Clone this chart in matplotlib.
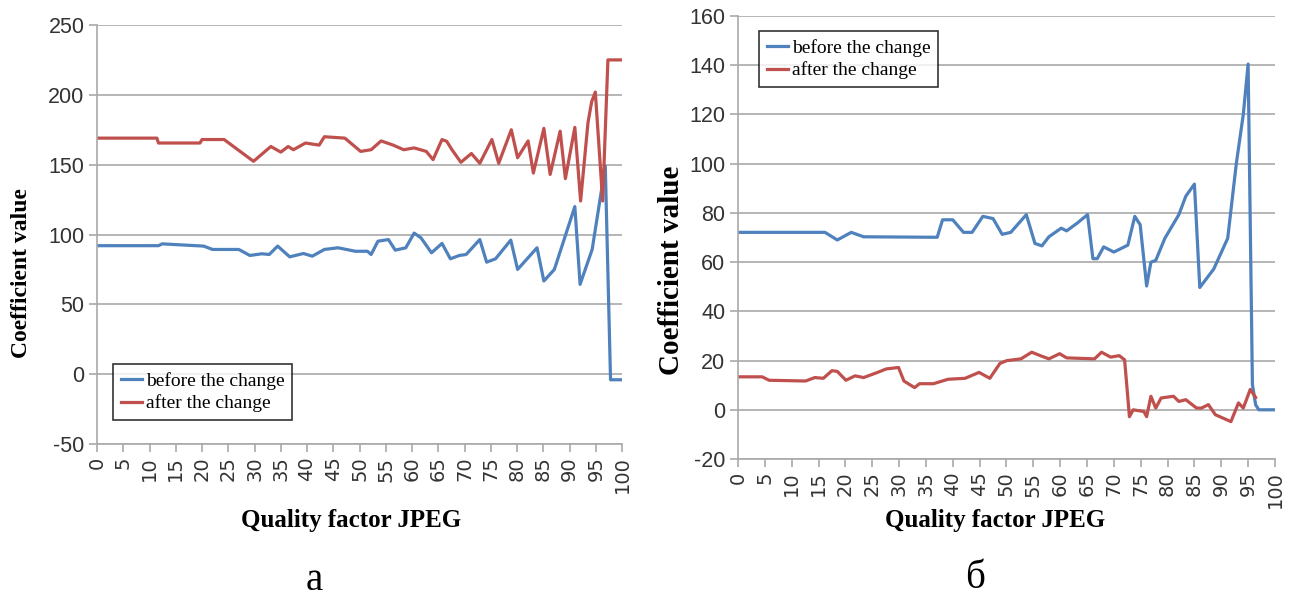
import matplotlib
matplotlib.use("Agg")
import matplotlib.pyplot as plt

# ---- data ----
# panel a
a_before_x = [0, 11.7, 12.4, 20.3, 22, 27, 29.1, 31.4, 32.8, 34.4, 36.7, 39.3, 41, 43.3, 45.9,
              49.2, 51.5, 52.2, 53.5, 55.5, 56.8, 58.8, 60.4, 61.7, 63.7, 65.7, 67.3, 69, 70.3,
              72.9, 74.2, 75.9, 78.8, 80.1, 83.8, 85.1, 87.1, 91, 92, 94.3, 96.8, 97.8, 100]
a_before_y = [92, 92, 93.3, 91.7, 89.3, 89.3, 85, 86.2, 85.7, 91.7, 84, 86.4, 84.5, 89.3, 90.5,
              88, 88, 85.7, 95.2, 96.4, 88.8, 90.5, 101, 97.6, 86.9, 93.6, 82.6, 85, 85.7,
              96.4, 80.2, 82.6, 96, 75, 90.5, 66.7, 75, 120, 64.3, 89.3, 149, -4, -4]

a_after_x = [0, 11.4, 11.7, 19.6, 20, 24.2, 29.8, 33.1, 35, 36.4, 37.4, 39.7, 42.3, 43.3, 47.2,
             50.2, 52.2, 54.1, 56.4, 58.4, 60.4, 62.7, 64, 65.7, 66.6, 67.6, 69.3, 71.3, 72.9,
             75.2, 76.5, 78.9, 80.1, 82.1, 83.1, 85.1, 86.3, 88.2, 89.2, 91, 92.1, 93.5, 94.2,
             94.9, 96.3, 97.3, 100]
a_after_y = [169, 169, 165.5, 165.5, 168, 168, 152.4, 163, 159, 163, 160.7, 165.5, 164, 170, 169,
             159.5, 160.7, 167, 164, 160.7, 162, 159.5, 153.6, 168, 166.7, 160.7, 151.7, 158, 151,
             168, 151, 175, 155, 167, 144, 176, 143, 174, 140, 176.7, 124, 180, 195,
             202, 124, 225, 225]

# panel б
b_before_x = [0, 16.2, 18.5, 21.1, 23.4, 37.1, 38.1, 40, 42, 43.6, 45.6, 47.5, 49.2, 50.8, 53.7,
              55.3, 56.6, 57.9, 60.2, 61.2, 63.2, 65.1, 66.1, 66.9, 68.1, 70, 72.6, 73.9, 74.9,
              76.1, 76.9, 77.8, 79.5, 82.1, 83.4, 85, 86, 88.6, 91.2, 92.8, 94.1, 95, 95.8,
              96.4, 97, 100]
b_before_y = [72.1, 72.1, 69, 72.1, 70.3, 70.1, 77.2, 77.2, 72.1, 72.1, 78.6, 77.7, 71.3, 72.1, 79.3,
              67.6, 66.6, 70.3, 73.8, 72.7, 75.9, 79.3, 61.4, 61.4, 66.2, 64.1, 66.9, 78.6, 75.2,
              50.3, 60, 60.7, 69.7, 79.3, 86.8, 91.7, 49.7, 57.2, 69.7, 100, 120, 140.5, 10.3,
              2, 0, 0]

b_after_x = [0, 4.5, 5.8, 12.6, 14.3, 15.9, 17.5, 18.5, 20.1, 21.8, 23.4, 26, 27.6, 29.9, 30.9,
             32.9, 33.8, 36.4, 39.1, 42.3, 44.9, 46.9, 48.8, 50.1, 52.7, 54.7, 56.3, 57.9, 59.9,
             61.2, 66.4, 67.7, 69.4, 71, 72, 72.9, 73.6, 75.6, 76.1, 76.9, 77.8, 78.8, 81.1,
             82.1, 83.4, 85.4, 86.3, 87.6, 88.9, 91.8, 93.2, 94.1, 95.4, 96.4]
b_after_y = [13.4, 13.4, 12, 11.7, 13.1, 12.8, 15.9, 15.6, 12, 13.8, 13.1, 15.2, 16.6, 17.2, 11.7,
             9, 10.6, 10.6, 12.4, 12.8, 15.2, 12.8, 18.9, 20, 20.7, 23.4, 22, 20.7, 22.8,
             21.1, 20.7, 23.4, 21.4, 22, 20.3, -2.8, 0, -0.7, -2.8, 5.5, 0.7, 4.8, 5.5,
             3.4, 4.1, 0.7, 0.7, 2.1, -2, -4.8, 2.8, 0.7, 8.3, 5]

x_ticks = list(range(0, 101, 5))
a_yticks = [-50, 0, 50, 100, 150, 200, 250]
b_yticks = [-20, 0, 20, 40, 60, 80, 100, 120, 140, 160]

labels = ["before the change", "after the change"]
BLUE = "#4F81BD"
RED = "#C0504D"
GRID = "#A9A9A9"

fig = plt.figure(figsize=(12.99, 5.98), dpi=100)
ax1 = fig.add_axes([0.0747, 0.2575, 0.4042, 0.7007])
ax2 = fig.add_axes([0.5681, 0.2324, 0.4134, 0.7408])


def style(ax, yticks):
    ax.set_xlim(0, 100)
    ax.set_ylim(yticks[0], yticks[-1])
    ax.set_xticks(x_ticks)
    ax.set_yticks(yticks)
    ax.set_xticklabels([str(t) for t in x_ticks], rotation=90, fontsize=14,
                       family="DejaVu Sans", color="#333333")
    ax.set_yticklabels([str(t) for t in yticks], fontsize=15.5,
                       family="Liberation Sans", color="#333333")
    ax.grid(axis="y", color=GRID, lw=1.2)
    ax.set_axisbelow(True)
    for s in ["top", "right"]:
        ax.spines[s].set_visible(False)
    for s in ["left", "bottom"]:
        ax.spines[s].set_color(GRID)
        ax.spines[s].set_linewidth(1.2)
    ax.tick_params(axis="both", colors=GRID, length=6, width=1.2, pad=3)
    ax.tick_params(axis="both", labelcolor="#333333")


style(ax1, a_yticks)
style(ax2, b_yticks)

ax1.plot(a_before_x, a_before_y, color=BLUE, lw=2.3, label=labels[0])
ax1.plot(a_after_x, a_after_y, color=RED, lw=2.3, label=labels[1])
ax2.plot(b_before_x, b_before_y, color=BLUE, lw=2.3, label=labels[0])
ax2.plot(b_after_x, b_after_y, color=RED, lw=2.3, label=labels[1])

leg_kw = dict(frameon=True, fancybox=False, borderaxespad=0, handlelength=1.1,
              handletextpad=0.2, borderpad=0.4, labelspacing=0.25,
              prop={"family": "Liberation Serif", "size": 14})
l1 = ax1.legend(loc="lower left", bbox_to_anchor=(0.03, 0.057), **leg_kw)
l2 = ax2.legend(loc="upper left", bbox_to_anchor=(0.039, 0.966), **leg_kw)
for lg in (l1, l2):
    lg.get_frame().set_edgecolor("black")
    lg.get_frame().set_linewidth(1.2)

# axis titles and panel captions
fig.text(0.0169, 0.5435, "Coefficient value", rotation=90, ha="center", va="center",
         family="Liberation Serif", weight="bold", fontsize=17)
fig.text(0.5173, 0.548, "Coefficient value", rotation=90, ha="center", va="center",
         family="Liberation Serif", weight="bold", fontsize=21)
fig.text(0.270, 0.129, "Quality factor JPEG", ha="center", va="center",
         family="Liberation Serif", weight="bold", fontsize=18)
fig.text(0.766, 0.130, "Quality factor JPEG", ha="center", va="center",
         family="Liberation Serif", weight="bold", fontsize=18)
fig.text(0.2417, 0.030, "а", ha="center", va="center",
         family="Liberation Serif", fontsize=28)
fig.text(0.7506, 0.032, "б", ha="center", va="center",
         family="Liberation Serif", fontsize=28)

fig.savefig("out.png", dpi=100)
